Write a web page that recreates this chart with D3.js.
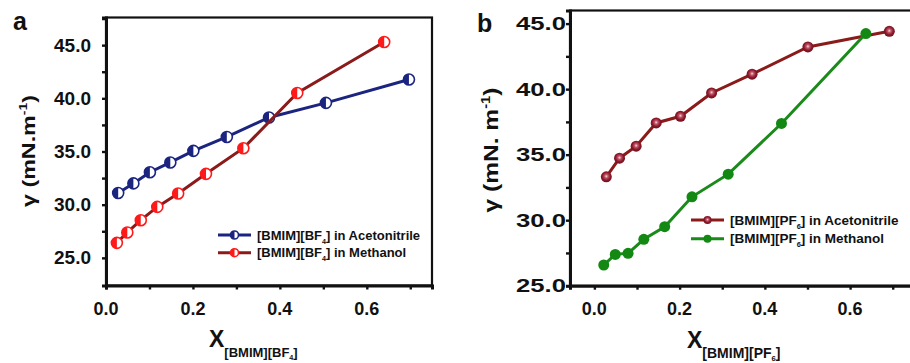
<!DOCTYPE html>
<html>
<head>
<meta charset="utf-8">
<script src="https://cdn.jsdelivr.net/npm/d3@7"></script>
<style>
  body { margin: 0; background: #fff; }
  text { font-family: "Liberation Sans", Arial, sans-serif; font-weight: bold; fill: #111; }
</style>
</head>
<body>
<div id="canvas"></div>
<script>
// ---- data ----
const xTicks = [0.0, 0.2, 0.4, 0.6];
const xMinorTicks = [0.0, 0.1, 0.2, 0.3, 0.4, 0.5, 0.6, 0.7];
const yTicks = [25, 30, 35, 40, 45];
const yMinorA = [25, 27.5, 30, 32.5, 35, 37.5, 40, 42.5, 45, 47.5];
const yMinorB = [25, 27.5, 30, 32.5, 35, 37.5, 40, 42.5, 45];

// panel a: [BMIM][BF4]
const bf4AcnX = [0.028, 0.063, 0.101, 0.148, 0.201, 0.278, 0.375, 0.506, 0.697];
const bf4AcnY = [31.1, 32.0, 33.05, 33.97, 35.06, 36.37, 38.2, 39.57, 41.77];
const bf4MeoX = [0.025, 0.049, 0.080, 0.118, 0.166, 0.230, 0.316, 0.440, 0.640];
const bf4MeoY = [26.41, 27.39, 28.54, 29.79, 31.05, 32.9, 35.31, 40.5, 45.3];

// panel b: [BMIM][PF6]
const pf6AcnX = [0.028, 0.059, 0.098, 0.145, 0.202, 0.275, 0.370, 0.501, 0.692];
const pf6AcnY = [33.31, 34.73, 35.65, 37.42, 37.93, 39.71, 41.14, 43.22, 44.41];
const pf6MeoX = [0.022, 0.049, 0.079, 0.116, 0.165, 0.229, 0.314, 0.439, 0.637];
const pf6MeoY = [26.58, 27.39, 27.47, 28.54, 29.5, 31.78, 33.51, 37.38, 44.24];

const legendA = [["BF", "4", "] in Acetonitrile"], ["BF", "4", "] in Methanol"]];
const legendB = [["PF", "6", "] in Acetonitrile"], ["PF", "6", "] in Methanol"]];

// ---- drawing ----
const W = 910, H = 363;
const svg = d3.select("#canvas").append("svg").attr("width", W).attr("height", H);

const defs = svg.append("defs");
const grad = defs.append("radialGradient").attr("id", "sphere")
  .attr("cx", "50%").attr("cy", "45%").attr("r", "55%");
grad.append("stop").attr("offset", "0%").attr("stop-color", "#f6d8df");
grad.append("stop").attr("offset", "28%").attr("stop-color", "#c2566a");
grad.append("stop").attr("offset", "65%").attr("stop-color", "#8c1a2a");
grad.append("stop").attr("offset", "100%").attr("stop-color", "#6e0f1c");

const leftHalf = d3.arc().innerRadius(0).startAngle(Math.PI).endAngle(2 * Math.PI);

function halfMarker(g, cx, cy, r, color) {
  g.append("circle").attr("cx", cx).attr("cy", cy).attr("r", r)
    .attr("fill", "#fff").attr("stroke", color).attr("stroke-width", 1.6);
  g.append("path").attr("d", leftHalf.outerRadius(r)())
    .attr("transform", `translate(${cx},${cy})`).attr("fill", color);
}

function fitText(sel, len) {
  const n = sel.node().getComputedTextLength();
  return len / n;
}

function panel(opt) {
  const g = svg.append("g");
  const x = d3.scaleLinear().domain(opt.xDomain).range([opt.left, opt.right]);
  const y = d3.scaleLinear().domain(opt.yDomain).range([opt.bottom, opt.top]);

  // frame
  g.append("rect").attr("x", opt.left).attr("y", opt.top)
    .attr("width", opt.right - opt.left).attr("height", opt.bottom - opt.top)
    .attr("fill", "none").attr("stroke", "#111").attr("stroke-width", 2.2);

  // axes
  const xa = g.append("g").attr("transform", `translate(0,${opt.bottom})`)
    .call(d3.axisBottom(x).tickValues(xMinorTicks).tickSize(4).tickFormat(""));
  const ya = g.append("g").attr("transform", `translate(${opt.left},0)`)
    .call(d3.axisLeft(y).tickValues(opt.yMinor).tickSize(4).tickFormat(""));
  [xa, ya].forEach(a => {
    a.select(".domain").attr("stroke", "#111").attr("stroke-width", 3);
    a.selectAll(".tick line").attr("stroke", "#111").attr("stroke-width", 2.4);
  });

  g.selectAll(".xlab").data(xTicks).enter().append("text")
    .attr("x", d => x(d)).attr("y", 315).attr("text-anchor", "middle")
    .attr("font-size", 18).text(d => d.toFixed(1));
  g.selectAll(".ylab").data(yTicks).enter().append("text")
    .attr("x", opt.yLabRight).attr("y", d => y(d) + 6.5).attr("text-anchor", "end")
    .attr("font-size", 18).attr("textLength", opt.yLabLen).attr("lengthAdjust", "spacingAndGlyphs")
    .text(d => d.toFixed(1));

  // y title
  const yt = g.append("text").attr("font-size", opt.yTitleSize).attr("text-anchor", "middle");
  yt.append("tspan").text(opt.yTitle);
  yt.append("tspan").attr("dy", -8).attr("font-size", opt.yTitleSize * 0.6).text("-1");
  yt.append("tspan").attr("dy", 8).text(")");
  const s = fitText(yt, opt.yTitleLen);
  yt.attr("transform", `translate(${opt.yTitleX},${opt.yTitleY}) rotate(-90) scale(${s},1)`);

  // x title
  const xt = g.append("text").attr("x", opt.xTitleX).attr("y", opt.xTitleY).attr("font-size", 23);
  xt.append("tspan").text("X");
  xt.append("tspan").attr("dy", 10).attr("font-size", opt.subSize).text("[BMIM][" + opt.ion);
  xt.append("tspan").attr("dy", 3).attr("font-size", opt.subSize * 0.55).text(opt.ionNum);
  xt.append("tspan").attr("dy", -3).attr("font-size", opt.subSize).text("]");

  // panel letter
  g.append("text").attr("x", opt.letterX).attr("y", opt.letterY).attr("font-size", 25).text(opt.letter);

  // series
  const line = d3.line().x(d => x(d[0])).y(d => y(d[1]));
  opt.series.forEach(sr => {
    const pts = sr.xs.map((v, i) => [v, sr.ys[i]]);
    g.append("path").datum(pts).attr("d", line).attr("fill", "none")
      .attr("stroke", sr.line).attr("stroke-width", 3);
    const mg = g.append("g");
    pts.forEach(p => drawMarker(mg, x(p[0]), y(p[1]), 5.5, sr));
  });

  // legend
  opt.series.forEach((sr, i) => {
    const cy = opt.legY + i * opt.legDy;
    g.append("line").attr("x1", opt.legX).attr("x2", opt.legX + 33).attr("y1", cy).attr("y2", cy)
      .attr("stroke", sr.line).attr("stroke-width", 3);
    drawMarker(g, opt.legX + 16.5, cy, 4, sr);
    const t = g.append("text").attr("x", opt.legX + 39).attr("y", cy + 4.5).attr("font-size", opt.legSize);
    const lab = opt.legend[i];
    t.append("tspan").text("[BMIM][" + lab[0]);
    t.append("tspan").attr("dy", 4).attr("font-size", opt.legSize * 0.55).text(lab[1]);
    t.append("tspan").attr("dy", -4).text(lab[2]);
  });
}

function drawMarker(g, cx, cy, r, sr) {
  if (sr.kind === "half") halfMarker(g, cx, cy, r, sr.marker);
  else if (sr.kind === "sphere")
    g.append("circle").attr("cx", cx).attr("cy", cy).attr("r", r).attr("fill", "url(#sphere)");
  else
    g.append("circle").attr("cx", cx).attr("cy", cy).attr("r", r).attr("fill", sr.marker);
}

panel({
  left: 106, right: 432, top: 17.5, bottom: 285.5,
  xDomain: [0, 0.75], yDomain: [22.4, 47.6], yMinor: yMinorA,
  yLabRight: 91, yLabLen: 37,
  yTitle: "\u03b3 (mN.m", yTitleSize: 19, yTitleLen: 112, yTitleX: 35, yTitleY: 151,
  xTitleX: 209, xTitleY: 347, subSize: 13, ion: "BF", ionNum: "4",
  letter: "a", letterX: 13, letterY: 30,
  legX: 218, legY: 235, legDy: 17.7, legSize: 13, legend: legendA,
  series: [
    { xs: bf4AcnX, ys: bf4AcnY, line: "#1b2580", marker: "#1b2580", kind: "half" },
    { xs: bf4MeoX, ys: bf4MeoY, line: "#8b1a1a", marker: "#ff1a1a", kind: "half" }
  ]
});

panel({
  left: 570, right: 916, top: 10.5, bottom: 285.7,
  xDomain: [-0.0572, 0.7546], yDomain: [25, 46], yMinor: yMinorB,
  yLabRight: 566, yLabLen: 50,
  yTitle: "\u03b3 (mN. m", yTitleSize: 20, yTitleLen: 125, yTitleX: 498, yTitleY: 150,
  xTitleX: 687, xTitleY: 348, subSize: 14, ion: "PF", ionNum: "6",
  letter: "b", letterX: 477, letterY: 32,
  legX: 691, legY: 220, legDy: 18.7, legSize: 13.5, legend: legendB,
  series: [
    { xs: pf6AcnX, ys: pf6AcnY, line: "#8b1a1a", marker: "#8b1a2a", kind: "sphere" },
    { xs: pf6MeoX, ys: pf6MeoY, line: "#1a8a1a", marker: "#138813", kind: "solid" }
  ]
});
</script>
</body>
</html>
